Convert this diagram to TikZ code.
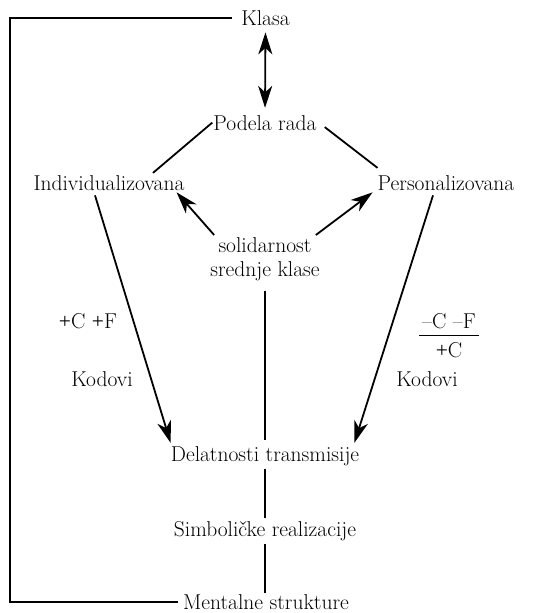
\documentclass[tikz,border=0pt]{standalone}
\usepackage{fontspec}
\newfontfamily\plusfont{Liberation Serif}
\usetikzlibrary{arrows.meta,calc}
\newcommand\pl{{\plusfont+}}
\begin{document}
\begin{tikzpicture}[x=1pt,y=-1pt,
  lbl/.style={anchor=base,inner sep=0pt,font=\fontsize{21.5}{24}\selectfont},
  ln/.style={line width=1.8pt},
  tip/.tip={Stealth[length=22pt,width=14pt,inset=6.5pt]},
  arr/.style={ln,-tip},
  darr/.style={ln,tip-tip}]
\useasboundingbox (0,0) rectangle (546,613);
% nodes
\node[lbl] (klasa) at (265.5,25) {Klasa};
\node[lbl] (podela) at (265,130) {Podela rada};
\node[lbl] (indiv) at (109,190) {Individualizovana};
\node[lbl] (pers) at (446,190) {Personalizovana};
\node[lbl,anchor=north,align=center] (solid) at (265,237) {solidarnost\\srednje klase};
\node[lbl] (delat) at (265,461) {Delatnosti transmisije};
\node[lbl] (simb) at (265,536) {Simboličke realizacije};
\node[lbl] (ment) at (266,609) {Mentalne strukture};
\node[lbl] (cf) at (88,328) {\pl C \pl F};
\node[lbl] (kodl) at (102,386) {Kodovi};
\node[lbl] (frnum) at (449,328) {–C –F};
\node[lbl] (frden) at (449,357) {\pl C};
\node[lbl] (kodr) at (427,386) {Kodovi};
\coordinate (lt) at (10,17);
% connectors
\draw[ln,shorten <=9pt] (klasa.west) -- (klasa.west -| lt) -- (ment.west -| lt) -- ([xshift=-5pt]ment.west);
\draw[darr,shorten <=7pt,shorten >=7pt] (klasa.south) -- (podela.north);
\draw[ln] ($(podela.west)+(-1,0)$) -- ($(indiv.north)+(44,-2)$);
\draw[ln] ($(podela.east)+(8,4.5)$) -- ($(pers.north west)+(0,-7)$);
\draw[arr] ($(solid.north west)+(4,-2)$) -- ($(indiv.south east)+(-8,2)$);
\draw[arr] ($(solid.north east)+(-4,-2)$) -- ($(pers.south west)+(-5,2)$);
\draw[arr] ($(indiv.south)+(-14,5)$) -- ($(delat.north west)+(0,-3)$);
\draw[arr] ($(pers.south)+(-13,5)$) -- ($(delat.north east)+(-5,-3)$);
\draw[ln,shorten <=10pt,shorten >=6pt] (solid.south) -- (solid.south |- delat.north);
\draw[ln,shorten <=3pt,shorten >=3pt] (delat.south) -- (delat.south |- simb.north);
\draw[ln,shorten <=3pt,shorten >=1pt] (simb.south) -- (simb.south |- ment.north);
\draw[line width=1.2pt] ($(frnum.south)+(-30,7)$) -- ($(frnum.south)+(30,7)$);
\end{tikzpicture}
\end{document}
